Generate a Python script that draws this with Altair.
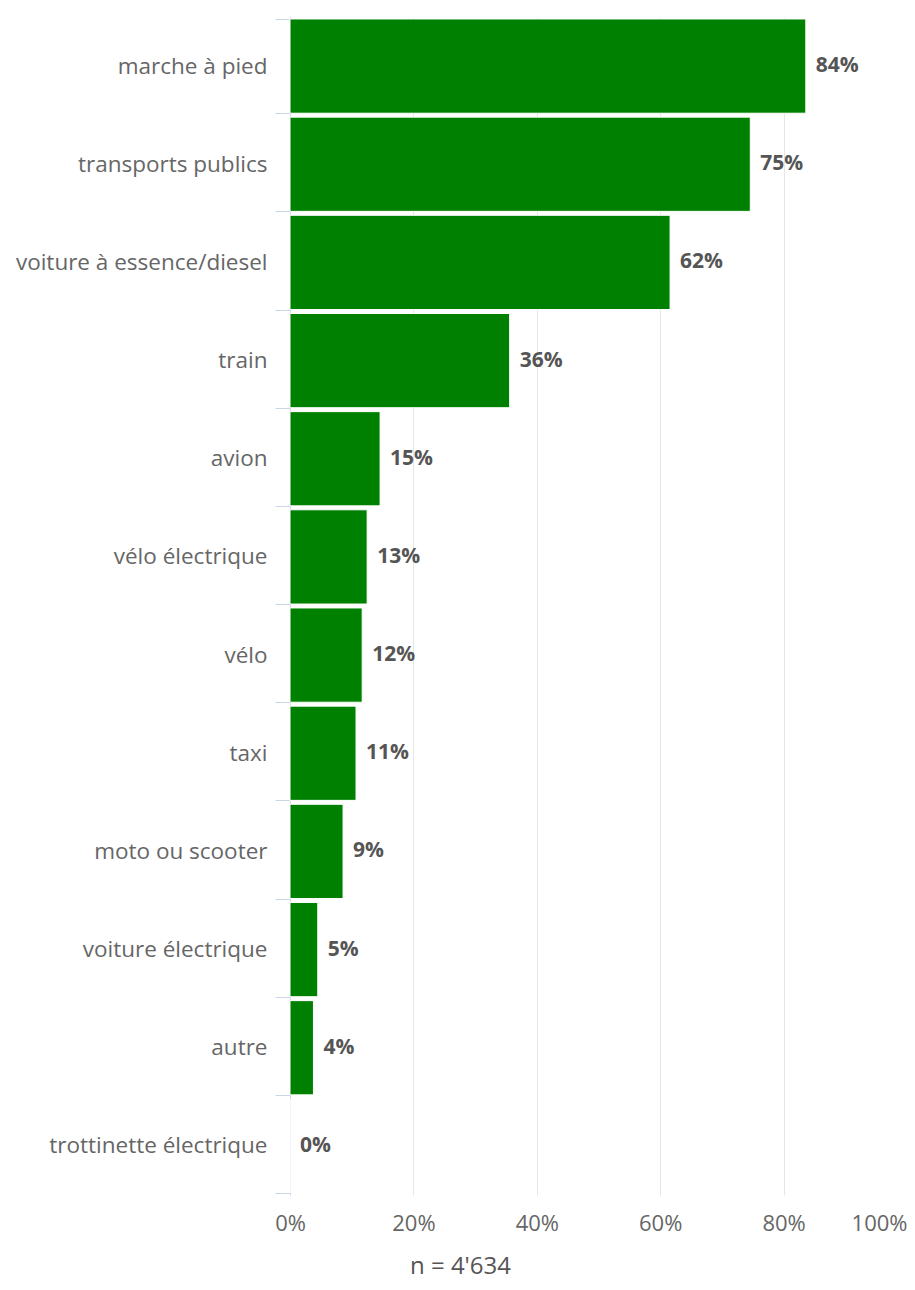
import altair as alt
import pandas as pd

categories = ["marche à pied", "transports publics", "voiture à essence/diesel", "train",
              "avion", "vélo électrique", "vélo", "taxi", "moto ou scooter",
              "voiture électrique", "autre", "trottinette électrique"]
values = [83.6, 74.6, 61.6, 35.6, 14.6, 12.5, 11.7, 10.7, 8.6, 4.5, 3.8, 0.0]
labels = ["84%", "75%", "62%", "36%", "15%", "13%", "12%", "11%", "9%", "5%", "4%", "0%"]
x_ticks = [0, 20, 40, 60, 80, 100]
n_label = "n = 4'634"

df = pd.DataFrame({"cat": categories, "val": values, "lab": labels})

FONT = "Open Sans"

y_enc = alt.Y("cat:N", sort=categories,
              scale=alt.Scale(paddingInner=0.04, paddingOuter=0.02),
              axis=alt.Axis(title=None, domainColor="#ccd6eb", tickColor="#ccd6eb",
                            tickSize=15, tickBand="extent", labelPadding=8,
                            labelFont=FONT, labelFontSize=22.5, labelColor="#666666",
                            labelLimit=400, grid=False))

x_enc = alt.X("val:Q", scale=alt.Scale(domain=[0, 100], nice=False),
              axis=alt.Axis(values=x_ticks, labelExpr="datum.value + '%'",
                            domain=False, ticks=False, grid=True, gridColor="#e6e6e6",
                            labelFont=FONT, labelFontSize=22, labelColor="#666666",
                            labelPadding=18,
                            labelAlign=alt.ExprRef(expr="datum.value == 100 ? 'right' : 'center'"),
                            labelFlush=False,
                            title=n_label, titleFont=FONT, titleFontSize=24,
                            titleFontWeight="normal", titleColor="#555555",
                            titleX=170, titleY=78, titleAlign="center",
                            titleBaseline="alphabetic"))

bars = alt.Chart(df).mark_bar(color="#008000", stroke="white", strokeWidth=1).encode(
    x=x_enc, y=y_enc)

text = alt.Chart(df).mark_text(align="left", dx=10, font=FONT, fontSize=21,
                               fontWeight="bold", color="#555555").encode(
    x="val:Q", y=alt.Y("cat:N", sort=categories), text="lab:N")

chart = (bars + text).properties(
    width=617, height=1178,
    autosize=alt.AutoSizeParams(type="none"),
    padding={"left": 282, "top": 9, "right": 0, "bottom": 87},
).configure_view(stroke=None)

chart.save("out.html", embed_options={"renderer": "svg", "actions": False})
